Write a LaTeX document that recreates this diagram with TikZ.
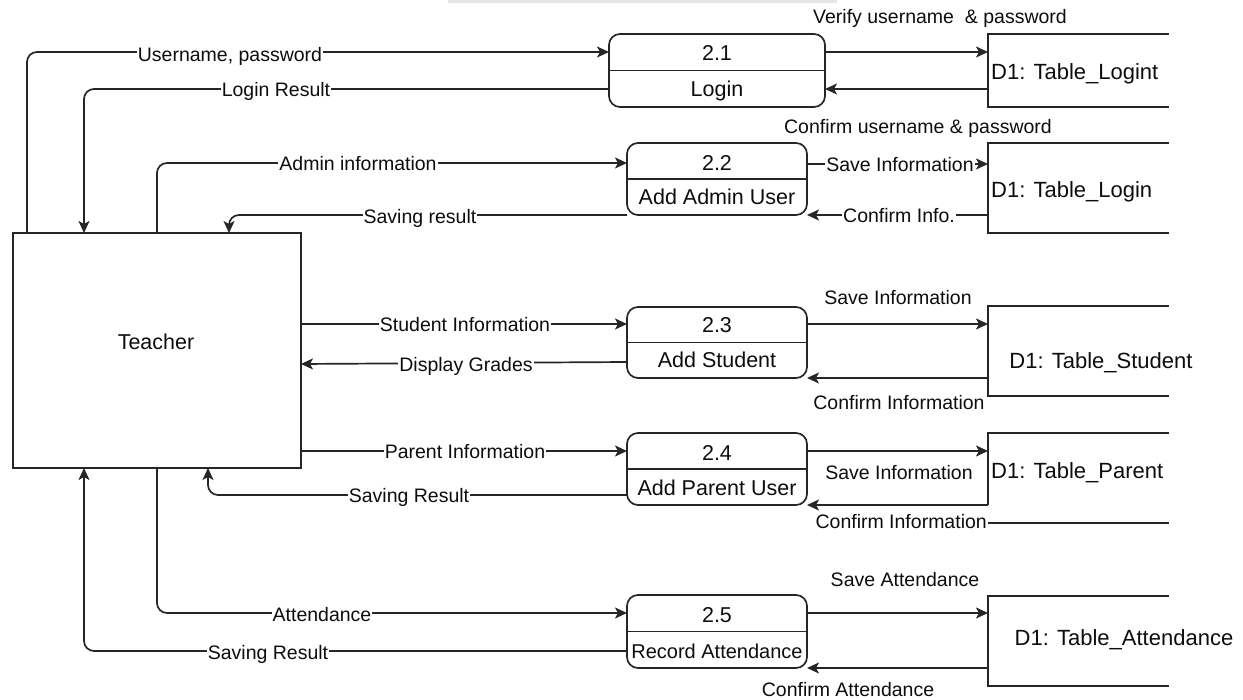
\documentclass[tikz,border=0pt]{standalone}
\usepackage{fontspec}
\setmainfont{Liberation Sans}
\usetikzlibrary{arrows.meta}
\begin{document}
\begin{tikzpicture}[x=1pt,y=-1pt,
  line/.style={line width=1.7pt, draw=black!85},
  flow/.style={line, -{Stealth[length=12pt,width=11pt,inset=3pt]}, rounded corners=10pt},
  proc/.style={line, rounded corners=11pt, minimum width=180pt, minimum height=72pt, inner sep=0pt, outer sep=0pt},
  store/.style={minimum width=181pt, minimum height=90pt, inner sep=0pt, outer sep=0pt},
  ptext/.style={font=\fontsize{21.5}{24}\selectfont, text=black!95, text height=15.5pt, text depth=0pt, inner sep=0pt},
  stext/.style={font=\fontsize{22}{24}\selectfont, text=black!95, text height=15.8pt, text depth=0pt, inner sep=0pt},
  elabel/.style={font=\fontsize{19.5}{22}\selectfont, text=black!95, text height=14pt, text depth=0pt, fill=white, inner xsep=1pt, inner ysep=1.5pt},
  flabel/.style={elabel, fill=none},
]
\useasboundingbox (0,0) rectangle (1243,700);
\fill[black!10] (448,0) rectangle (837,3);

% external entity
\node[line, draw, minimum width=288pt, minimum height=235pt, inner sep=0pt, outer sep=0pt] (t) at (157,350.5) {};
\node[ptext] (tname) at (156,342) {Teacher};

% processes
\node[proc, minimum width=216pt, minimum height=73pt] (p1) at (717,70.5) {};
\node[proc] (p2) at (717,179) {};
\node[proc, minimum height=71pt] (p3) at (717,342.5) {};
\node[proc] (p4) at (717,469) {};
\node[proc, minimum height=73pt] (p5) at (717,631.5) {};
\foreach \p in {p1,p2,p3,p4,p5} \draw[line] (\p.west) -- (\p.east);

\node[ptext] (p1a) at (717,53) {2.1};
\node[ptext] (p1b) at (717,89) {Login};
\node[ptext] (p2a) at (717,163) {2.2};
\node[ptext] (p2b) at (717,197) {Add Admin User};
\node[ptext] (p3a) at (717,325) {2.3};
\node[ptext] (p3b) at (717,360) {Add Student};
\node[ptext] (p4a) at (717,453) {2.4};
\node[ptext] (p4b) at (717,488) {Add Parent User};
\node[ptext] (p5a) at (717,615) {2.5};
\node[ptext, font=\fontsize{20}{22}\selectfont] (p5b) at (717,651) {Record Attendance};

% data stores
\node[store, minimum height=73pt] (s1) at (1078.5,70.5) {};
\node[store] (s2) at (1078.5,188) {};
\node[store] (s3) at (1078.5,351) {};
\node[store] (s4) at (1078.5,478) {};
\node[store] (s5) at (1078.5,641) {};
\foreach \s in {s1,s2,s3,s5}
  \draw[line] (\s.north east) -- (\s.north west) -- (\s.south west) -- (\s.south east);
\draw[line] (s4.north east) -- (s4.north west) -- ([yshift=-27pt]s4.west);
\draw[line] (s4.south west) -- (s4.south east);

\node[stext, anchor=west] (s1t) at (991,72) {D1: Table\_Logint};
\node[stext, anchor=west] (s2t) at (991,190) {D1: Table\_Login};
\node[stext] (s3t) at (1101,361) {D1: Table\_Student};
\node[stext, anchor=west] (s4t) at (991,471) {D1: Table\_Parent};
\node[stext] (s5t) at (1124,638) {D1: Table\_Attendance};

% flows between teacher and processes
\draw[flow] ([xshift=14pt]t.north west) |- ([yshift=18.5pt]p1.west);
\draw[flow] ([yshift=-18.5pt]p1.west) -| ([xshift=71pt]t.north west);
\draw[flow] (t.north) |- ([yshift=16pt]p2.west);
\draw[flow] ([yshift=-36pt]p2.west) -| ([xshift=216pt]t.north west);
\draw[flow] ([yshift=26.5pt]t.east) -- ([yshift=18.5pt]p3.west);
\draw[flow] ([yshift=-19.5pt]p3.west) -- ([yshift=-13.5pt]t.east);
\draw[flow] ([yshift=-100.5pt]t.east) -- ([yshift=18pt]p4.west);
\draw[flow] ([yshift=-26pt]p4.west) -| ([xshift=195pt]t.south west);
\draw[flow] (t.south) |- ([yshift=18.5pt]p5.west);
\draw[flow] ([yshift=-19.5pt]p5.west) -| ([xshift=71pt]t.south west);

% flows between processes and stores
\draw[flow] ([yshift=18.5pt]p1.east) -- ([yshift=18.5pt]s1.west);
\draw[flow] ([yshift=-18.5pt]s1.west) -- ([yshift=-18.5pt]p1.east);
\draw[flow] ([yshift=15pt]p2.east) -- ([yshift=24pt]s2.west);
\draw[flow] ([yshift=-27pt]s2.west) -- ([yshift=-36pt]p2.east);
\draw[flow] ([yshift=18.5pt]p3.east) -- ([yshift=27pt]s3.west);
\draw[flow] ([yshift=-27pt]s3.west) -- ([yshift=-35.5pt]p3.east);
\draw[flow] ([yshift=18pt]p4.east) -- ([yshift=27pt]s4.west);
\draw[flow] ([yshift=-27pt]s4.west) -- ([yshift=-36pt]p4.east);
\draw[flow] ([yshift=18.5pt]p5.east) -- ([yshift=28pt]s5.west);
\draw[flow] ([yshift=-27pt]s5.west) -- ([yshift=-36.5pt]p5.east);

% flow labels
\node[elabel] (l1) at (230,55) {Username, password};
\node[elabel] (l2) at (276,90) {Login Result};
\node[elabel] (l3) at (358,164) {Admin information};
\node[elabel] (l4) at (420,217) {Saving result};
\node[elabel] (l5) at (465,325) {Student Information};
\node[elabel] (l6) at (466,365) {Display Grades};
\node[elabel] (l7) at (465,452) {Parent Information};
\node[elabel] (l8) at (409,496) {Saving Result};
\node[elabel] (l9) at (322,614) {Attendance};
\node[elabel] (l10) at (268,652) {Saving Result};

\node[flabel] (r1) at (940,17) {Verify username\ \ \& password};
\node[flabel] (r2) at (918,127) {Confirm username \& password};
\node[elabel] (r3) at (900,165) {Save Information};
\node[elabel] (r4) at (899,216) {Confirm Info.};
\node[flabel] (r5) at (898,298) {Save Information};
\node[flabel] (r6) at (899,403) {Confirm Information};
\node[flabel] (r7) at (899,472) {Save Information};
\node[elabel, anchor=east] (r8) at (988,522) {Confirm Information};
\node[flabel] (r9) at (905,579) {Save Attendance};
\node[flabel] (r10) at (848,689) {Confirm Attendance};
\end{tikzpicture}
\end{document}
